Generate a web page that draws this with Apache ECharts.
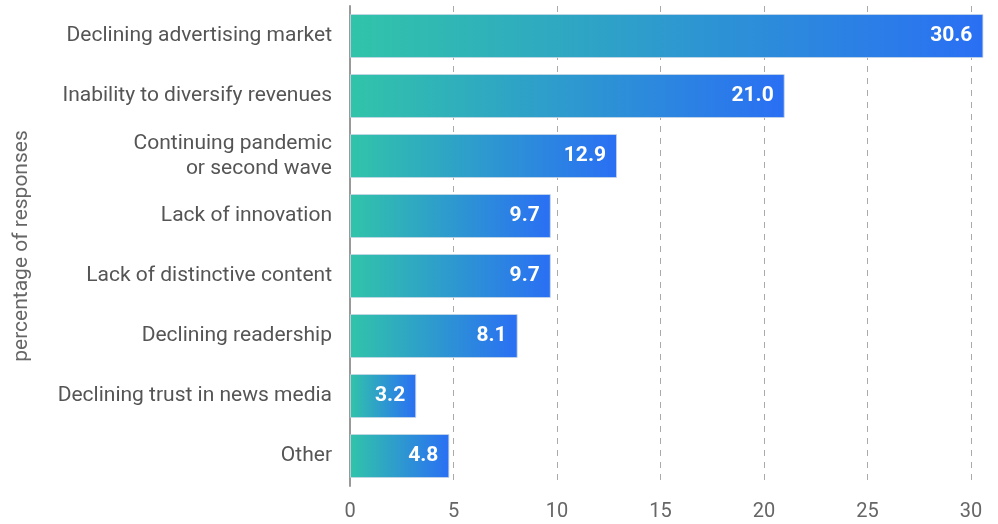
<!DOCTYPE html>
<html><head><meta charset="utf-8">
<script src="https://cdn.jsdelivr.net/npm/echarts@6/dist/echarts.min.js"></script>
<style>html,body{margin:0;padding:0;background:#fff}#c{width:998px;height:524px}</style>
</head><body><div id="c"></div>
<script>
const categories = ["Declining advertising market","Inability to diversify revenues","Continuing pandemic\nor second wave","Lack of innovation","Lack of distinctive content","Declining readership","Declining trust in news media","Other"];
const values = [30.6, 21.0, 12.9, 9.7, 9.7, 8.1, 3.2, 4.8];
const axisName = "percentage of responses";

const chart = echarts.init(document.getElementById('c'));
chart.setOption({
  animation:false,
  textStyle:{fontFamily:'Roboto'},
  grid:{left:350,right:27,top:6,bottom:38,containLabel:false},
  xAxis:{type:'value',min:0,max:30,interval:5,
    axisLine:{show:false},axisTick:{show:false},
    axisLabel:{fontSize:20,color:'#666',margin:16,fontFamily:'Roboto'},
    splitLine:{show:true,lineStyle:{type:[6,6],color:'#aaa',width:1}}},
  yAxis:{type:'category',data:categories,inverse:true,
    name:axisName,nameLocation:'middle',nameGap:318,nameRotate:90,
    nameTextStyle:{fontSize:21,color:'#666',fontFamily:'Roboto'},
    axisLine:{show:true,lineStyle:{color:'#999',width:2}},
    axisTick:{show:false},
    axisLabel:{fontSize:21,color:'#555',margin:18,lineHeight:25,fontFamily:'Roboto'}},
  series:[{type:'bar',data:values,barWidth:44,clip:false,z:3,
    itemStyle:{color:new echarts.graphic.LinearGradient(0,0,1,0,[{offset:0,color:'#31C4A9'},{offset:1,color:'#2A6FF4'}]),
      borderColor:'rgba(200,215,230,0.8)',borderWidth:1},
    label:{show:true,position:'insideRight',distance:11,color:'#fff',fontSize:21,fontWeight:'bold',fontFamily:'Roboto',
      formatter:p=>p.value.toFixed(1)}}]
});
</script></body></html>
